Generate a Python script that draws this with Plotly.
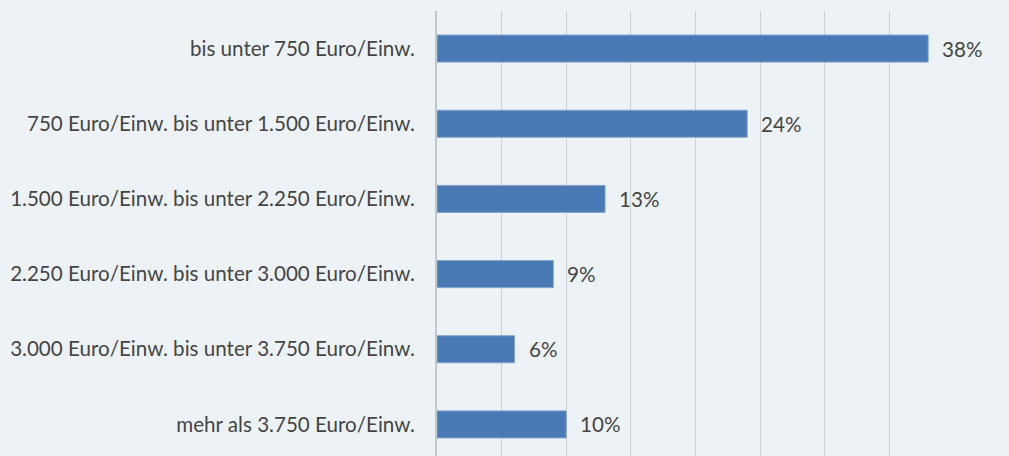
import plotly.graph_objects as go

# Anteil der Kommunen je Größenklasse (Euro je Einwohner)
categories = [
    "bis unter 750 Euro/Einw.",
    "750 Euro/Einw. bis unter 1.500 Euro/Einw.",
    "1.500 Euro/Einw. bis unter 2.250 Euro/Einw.",
    "2.250 Euro/Einw. bis unter 3.000 Euro/Einw.",
    "3.000 Euro/Einw. bis unter 3.750 Euro/Einw.",
    "mehr als 3.750 Euro/Einw.",
]
shares = [38, 24, 13, 9, 6, 10]

BG = "#EDF2F7"
BAR = "#4A7AB5"
TEXT = "#454545"
FONT = "Lato"
SIZE = 20.6

fig = go.Figure(
    go.Bar(
        x=shares,
        y=categories,
        orientation="h",
        width=0.36,
        marker=dict(color=BAR, line=dict(color="#86A3CC", width=1)),
        hoverinfo="skip",
    )
)

# value labels to the right of each bar
for cat, val in zip(categories, shares):
    fig.add_annotation(
        x=val, y=cat, text=f"{val}%", showarrow=False,
        xanchor="left", yanchor="middle", xshift=12,
        font=dict(family=FONT, size=SIZE, color=TEXT),
    )

fig.update_layout(
    width=1009, height=456,
    margin=dict(l=437, r=55, t=11, b=0),
    paper_bgcolor=BG, plot_bgcolor=BG,
    showlegend=False,
    font=dict(family=FONT, size=SIZE, color=TEXT),
    xaxis=dict(
        range=[0, 40], dtick=5, showticklabels=False, ticks="",
        showgrid=True, gridcolor="#CBD0D6", gridwidth=1,
        zeroline=False, showline=False, fixedrange=True,
    ),
    yaxis=dict(
        type="category", categoryorder="array", categoryarray=categories,
        range=[5.42, -0.5], showgrid=False, ticks="",
        ticklabelstandoff=16, showline=True, linecolor="#C2C7CD", linewidth=2,
        zeroline=False, fixedrange=True,
    ),
)

fig.write_html("out.html")
